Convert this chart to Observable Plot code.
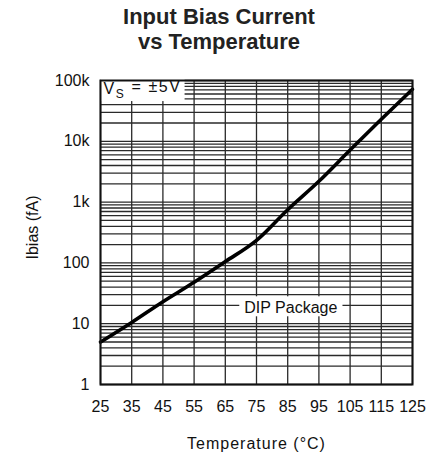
<!DOCTYPE html>
<html>
<head>
<meta charset="utf-8">
<script src="https://cdn.jsdelivr.net/npm/d3@7"></script>
<script src="https://cdn.jsdelivr.net/npm/@observablehq/plot@0.6"></script>
<style>
  html, body { margin: 0; padding: 0; background: #fff; }
  #wrap { width: 432px; height: 461px; overflow: hidden; }
  #title {
    box-sizing: border-box; width: 432px; height: 62px;
    padding: 4px 0 0 6px; text-align: center;
    font: bold 22px/25px "Liberation Sans", Arial, sans-serif; color: #222;
  }
  svg { display: block; }
</style>
</head>
<body>
<div id="wrap">
  <div id="title">Input Bias Current<br>vs Temperature</div>
</div>
<script>
// Data
const temperature = [25, 35, 45, 55, 65, 75, 85, 95, 105, 115, 125];
const ibiasFA     = [5, 10.5, 23, 48, 105, 235, 750, 2200, 7200, 23000, 72000];

// Ticks and labels
const xTicks = [25, 35, 45, 55, 65, 75, 85, 95, 105, 115, 125];
const yTicks = [1, 10, 100, 1000, 10000, 100000];
const yTickLabels = ["1", "10", "100", "1k", "10k", "100k"];
const minorMultipliers = [1, 2, 3, 4, 5, 6, 7, 8, 9];
const yGrid = yTicks.flatMap(d => minorMultipliers.map(m => d * m)).filter(v => v <= 100000);

const xLabel = "Temperature (°C)";
const yLabel = "Ibias (fA)";
const packageNote = "DIP Package";
const supplyNote = "VS = ±5V";

const data = temperature.map((t, i) => ({t, v: ibiasFA[i]}));
const font = "'Liberation Sans', Arial, sans-serif";

const chart = Plot.plot({
  width: 432,
  height: 399,
  marginTop: 18,
  marginBottom: 77,
  marginLeft: 100,
  marginRight: 20,
  style: {fontFamily: font, fontSize: "16px", color: "#111", background: "white"},
  x: {domain: [25, 125]},
  y: {type: "log", domain: [1, 100000]},
  marks: [
    Plot.gridX(xTicks, {stroke: "#2a2a2a", strokeOpacity: 1, strokeWidth: 1.3}),
    Plot.gridY(yGrid, {stroke: "#2a2a2a", strokeOpacity: 1, strokeWidth: 1.3}),
    Plot.line(data, {x: "t", y: "v", stroke: "#000", strokeWidth: 3.6, curve: "monotone-x"}),
    Plot.text([packageNote], {x: () => 86, y: () => 18, text: d => d, fontSize: 16,
      textAnchor: "middle", lineAnchor: "middle", fill: "#111", className: "boxed-dip",
      style: {letterSpacing: "0.4px"}}),
    Plot.text([supplyNote], {frameAnchor: "top-left", text: d => d, fontSize: 16, dx: 3, dy: 2,
      textAnchor: "start", lineAnchor: "top", fill: "#111", className: "boxed-vs"}),
    Plot.frame({stroke: "#111", strokeWidth: 2}),
    Plot.axisX(xTicks, {tickSize: 0, tickPadding: 16, label: null, fill: "#111"}),
    Plot.axisY(yTicks, {tickSize: 0, tickPadding: 11, label: null, fill: "#111",
      tickFormat: d => yTickLabels[yTicks.indexOf(d)]}),
    Plot.text([xLabel], {frameAnchor: "bottom", text: d => d, dy: 64, textAnchor: "middle",
      lineAnchor: "bottom", fontSize: 16, fill: "#111", className: "xlab"}),
    Plot.text([yLabel], {frameAnchor: "left", text: d => d, dx: -68, dy: -5, rotate: -90,
      textAnchor: "middle", lineAnchor: "middle", fontSize: 16, fill: "#111"})
  ]
});

document.getElementById("wrap").appendChild(chart);

const svg = d3.select(chart);
svg.selectAll("g.xlab text").style("letter-spacing", "1px");

// Subscript for V_S
svg.selectAll("g.boxed-vs text").each(function() {
  const t = d3.select(this);
  t.text(null).style("letter-spacing", "1.6px");
  t.append("tspan").text("V");
  t.append("tspan").attr("font-size", 12).attr("dy", "0.35em").text("S");
  t.append("tspan").attr("dy", "-0.35em").text(" = ±5V");
});

// White boxes behind the notes
function box(sel, px, top, bottom) {
  svg.selectAll(sel).each(function() {
    const b = this.getBBox();
    d3.select(this.parentNode).insert("rect", () => this)
      .attr("x", b.x - px).attr("y", b.y - top)
      .attr("width", b.width + 2 * px).attr("height", b.height + top + bottom)
      .attr("transform", this.getAttribute("transform"))
      .attr("fill", "white");
  });
}
box("g.boxed-vs text", 3, 4, 0);
box("g.boxed-dip text", 5, 3, 0);
</script>
</body>
</html>
